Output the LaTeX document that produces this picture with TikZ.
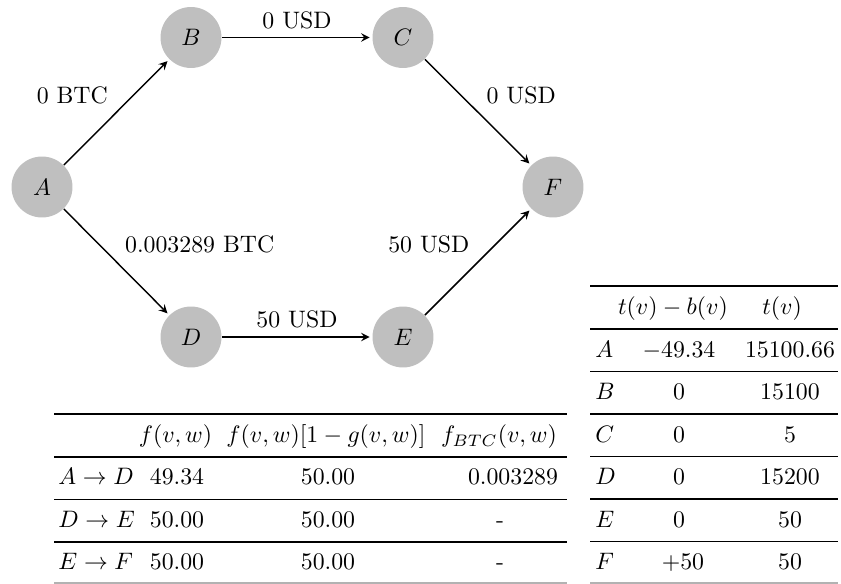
\documentclass[tikz,border=0pt]{standalone}
\usepackage{amssymb}
\usepackage{tikz}

\begin{document}
\begin{tikzpicture}[x=0.42pt,y=-0.42pt]
\tikzset{vx/.style={circle,fill=black!25,inner sep=0pt,minimum size=25.6pt}}
\tikzset{pay/.style={-stealth,semithick,shorten >=1pt}}
\tikzset{cell/.style={anchor=base,inner sep=0pt}}
\tikzset{lcell/.style={anchor=base west,inner sep=0pt}}
\tikzset{toprule/.style={line width=0.8pt}}
\tikzset{midrule/.style={line width=0.5pt}}
\tikzset{botrule/.style={line width=0.5pt,black!30}}
\useasboundingbox (0,0) rectangle (841,584);

\path (42,187) node[vx] (A) {$A$};
\path (191,37.5) node[vx] (B) {$B$};
\path (403,37.5) node[vx] (C) {$C$};
\path (191,337) node[vx] (D) {$D$};
\path (403,337) node[vx] (E) {$E$};
\path (553,187) node[vx] (F) {$F$};

\draw[pay] (A) -- node[midway,above left] {0 BTC} (B);
\draw[pay] (B) -- node[midway,above] {0 USD} (C);
\draw[pay] (C) -- node[midway,above right] {0 USD} (F);
\draw[pay] (A) -- node[midway,above right] {0.003289 BTC} (D);
\draw[pay] (D) -- node[midway,above] {50 USD} (E);
\draw[pay] (E) -- node[midway,above left] {50 USD} (F);

% edge table
\draw[toprule] (54,414) -- (567,414);
\draw[midrule] (54,457) -- (567,457);
\draw[midrule] (54,499.5) -- (567,499.5);
\draw[midrule] (54,542) -- (567,542);
\draw[botrule] (54,583) -- (567,583);

\node[cell] (h1) at (175.5,443) {$f(v,w)$};
\node[cell] (h2) at (326,443) {$f(v,w)[1-g(v,w)]$};
\node[cell] (h3) at (499,443) {$f_{BTC}(v,w)$};

\node[lcell] (ad) at (58,485) {$A\rightarrow D$};
\node[cell] (ad1) at (177,485) {49.34};
\node[cell] (ad2) at (328,485) {50.00};
\node[cell] (ad3) at (513,485) {0.003289};

\node[lcell] (de) at (58,527.5) {$D\rightarrow E$};
\node[cell] (de1) at (177,527.5) {50.00};
\node[cell] (de2) at (328,527.5) {50.00};
\node[cell] (de3) at (500,527.5) {-};

\node[lcell] (ef) at (58,570) {$E\rightarrow F$};
\node[cell] (ef1) at (177,570) {50.00};
\node[cell] (ef2) at (328,570) {50.00};
\node[cell] (ef3) at (500,570) {-};

% vertex table
\draw[toprule] (590,286) -- (838,286);
\draw[midrule] (590,329) -- (838,329);
\draw[midrule] (590,371.5) -- (838,371.5);
\draw[midrule] (590,414) -- (838,414);
\draw[midrule] (590,456.5) -- (838,456.5);
\draw[midrule] (590,499) -- (838,499);
\draw[midrule] (590,541.5) -- (838,541.5);
\draw[botrule] (590,583) -- (838,583);

\node[cell] (t1) at (673,315) {$t(v)-b(v)$};
\node[cell] (t2) at (782,315) {$t(v)$};

\node[lcell] (ra) at (595,357.5) {$A$};
\node[cell] (ra1) at (679,357.5) {$-49.34$};
\node[cell] (ra2) at (790,357.5) {15100.66};

\node[lcell] (rb) at (595,400) {$B$};
\node[cell] (rb1) at (679,400) {0};
\node[cell] (rb2) at (790,400) {15100};

\node[lcell] (rc) at (595,442.5) {$C$};
\node[cell] (rc1) at (679,442.5) {0};
\node[cell] (rc2) at (790,442.5) {5};

\node[lcell] (rd) at (595,485) {$D$};
\node[cell] (rd1) at (679,485) {0};
\node[cell] (rd2) at (790,485) {15200};

\node[lcell] (re) at (595,527.5) {$E$};
\node[cell] (re1) at (679,527.5) {0};
\node[cell] (re2) at (790,527.5) {50};

\node[lcell] (rf) at (595,570) {$F$};
\node[cell] (rf1) at (683,570) {$+50$};
\node[cell] (rf2) at (790,570) {50};

\end{tikzpicture}
\end{document}
